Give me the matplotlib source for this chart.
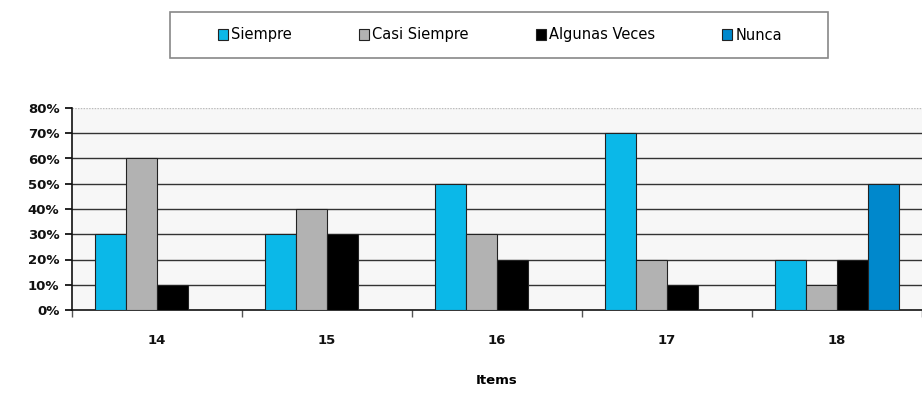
import numpy as np
import matplotlib.pyplot as plt
from matplotlib.patches import Rectangle
from matplotlib.ticker import FixedLocator

items = ["14", "15", "16", "17", "18"]
series = ["Siempre", "Casi Siempre", "Algunas Veces", "Nunca"]
siempre = [30, 30, 50, 70, 20]
casi_siempre = [60, 40, 30, 20, 10]
algunas_veces = [10, 30, 20, 10, 20]
nunca = [0, 0, 0, 0, 50]
colors = ["#0BB8E8", "#B2B2B2", "#000000", "#0088CC"]

fig = plt.figure(figsize=(9.22, 3.94), dpi=100)
ax = fig.add_axes([72 / 922, 1 - 310 / 394, 850 / 922, 202 / 394])
ax.set_facecolor("#F7F7F7")

x = np.arange(len(items))
w = 0.182
values = [siempre, casi_siempre, algunas_veces, nunca]
for i, (vals, c, name) in enumerate(zip(values, colors, series)):
    ax.bar(x + (i - 1.5) * w, vals, width=w, color=c, edgecolor="#222222",
           linewidth=0.8, label=name, zorder=3)

ax.set_xlim(-0.5, len(items) - 0.5)
ax.set_ylim(0, 80)

# horizontal grid lines
for yv in range(10, 80, 10):
    ax.axhline(yv, color="#333333", linewidth=1.0, zorder=1)
ax.axhline(80, color="#BBBBBB", linewidth=1.0, linestyle=(0, (1, 1)), zorder=1)

ax.spines["top"].set_visible(False)
ax.spines["right"].set_visible(False)
ax.spines["left"].set_color("#111111")
ax.spines["bottom"].set_color("#111111")
ax.spines["left"].set_linewidth(1.2)
ax.spines["bottom"].set_linewidth(1.2)

ax.set_yticks(range(0, 90, 10))
ax.set_yticklabels([f"{v}%" for v in range(0, 90, 10)], fontsize=9.5,
                   fontweight="bold", color="#111111")
ax.tick_params(axis="y", length=5, width=1.2, pad=4)

ax.set_xticks(x)
ax.set_xticklabels(items, fontsize=9.5, fontweight="bold", color="#111111")
ax.tick_params(axis="x", which="major", length=0, pad=17)
ax.xaxis.set_minor_locator(FixedLocator(np.arange(-0.5, len(items), 1.0)))
ax.tick_params(axis="x", which="minor", length=5, width=1, color="#555555")

ax.set_xlabel("Items", fontsize=9.5, fontweight="bold", labelpad=20)

# legend box
fig.patches.append(Rectangle((170 / 922, 1 - 58 / 394), 658 / 922, 46 / 394,
                             transform=fig.transFigure, facecolor="white",
                             edgecolor="#888888", linewidth=1.2, zorder=0))
fig.legend(loc="center", bbox_to_anchor=(500 / 922, 1 - 35 / 394),
           ncol=4, frameon=False, handlelength=0.7, handleheight=0.7,
           handletextpad=0.2, columnspacing=4.6,
           prop={"size": 10.5})

fig.savefig("out.png", dpi=100)
